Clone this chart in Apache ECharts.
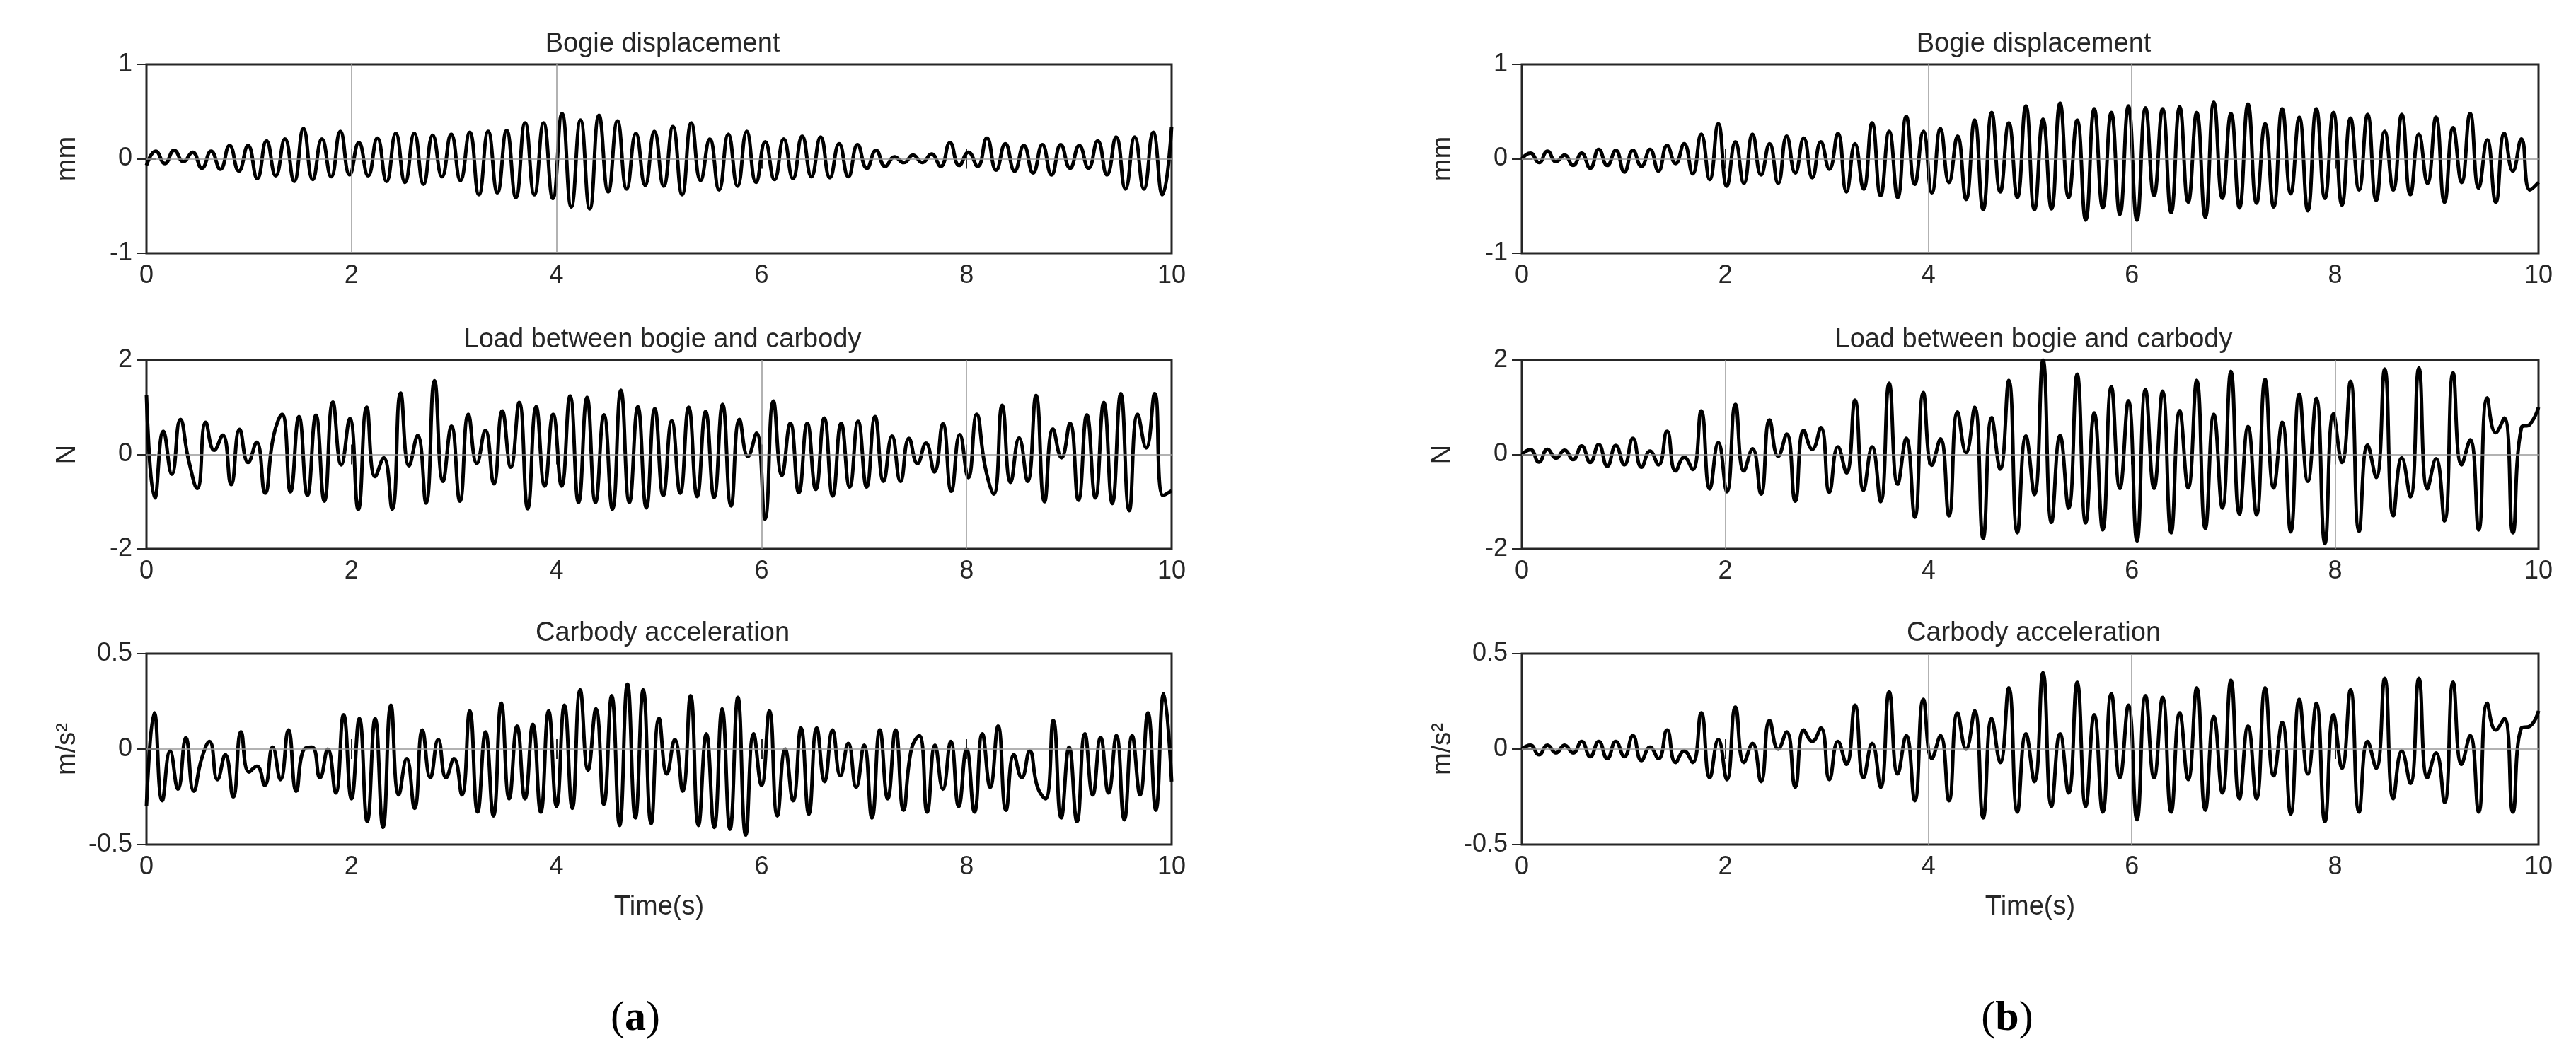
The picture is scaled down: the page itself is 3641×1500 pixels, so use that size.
<!DOCTYPE html>
<html>
<head>
<meta charset="utf-8">
<script src="https://cdn.jsdelivr.net/npm/echarts@6/dist/echarts.min.js"></script>
<style>html,body{margin:0;background:#fff}#chart{width:3641px;height:1500px}</style>
</head>
<body>
<div id="chart"></div>
<script>
// extrema, evenly spread from t=0 to t=10 s
const dispA = [-0.07,0.08,-0.05,0.09,-0.03,0.07,-0.1,0.08,-0.11,0.14,-0.13,0.14,-0.21,0.19,-0.18,0.21,-0.24,0.32,-0.22,0.21,-0.19,0.29,-0.17,0.17,-0.18,0.22,-0.24,0.27,-0.25,0.27,-0.27,0.25,-0.19,0.26,-0.23,0.28,-0.38,0.29,-0.36,0.30,-0.41,0.38,-0.38,0.38,-0.42,0.48,-0.51,0.41,-0.53,0.46,-0.35,0.40,-0.32,0.27,-0.28,0.29,-0.29,0.34,-0.38,0.38,-0.23,0.21,-0.33,0.26,-0.29,0.29,-0.25,0.18,-0.22,0.21,-0.21,0.24,-0.19,0.23,-0.2,0.16,-0.19,0.15,-0.1,0.09,-0.08,0.02,-0.04,0.04,-0.04,0.05,-0.08,0.17,-0.07,0.07,-0.08,0.22,-0.12,0.16,-0.13,0.14,-0.15,0.15,-0.17,0.15,-0.1,0.14,-0.1,0.19,-0.17,0.23,-0.32,0.23,-0.32,0.28,-0.38,0.34];
const dispB = [0,0.06,-0.04,0.08,-0.03,0.04,-0.07,0.06,-0.1,0.1,-0.07,0.09,-0.14,0.09,-0.08,0.1,-0.13,0.14,-0.05,0.16,-0.16,0.26,-0.22,0.37,-0.29,0.18,-0.26,0.26,-0.17,0.16,-0.26,0.24,-0.15,0.22,-0.2,0.18,-0.11,0.27,-0.35,0.16,-0.32,0.38,-0.39,0.29,-0.41,0.45,-0.27,0.29,-0.36,0.32,-0.25,0.24,-0.43,0.41,-0.54,0.49,-0.35,0.38,-0.41,0.56,-0.54,0.42,-0.53,0.59,-0.41,0.41,-0.65,0.53,-0.52,0.49,-0.59,0.56,-0.65,0.54,-0.39,0.53,-0.57,0.55,-0.46,0.49,-0.62,0.60,-0.42,0.48,-0.52,0.58,-0.47,0.37,-0.51,0.53,-0.37,0.44,-0.55,0.53,-0.42,0.49,-0.49,0.43,-0.33,0.47,-0.44,0.29,-0.33,0.47,-0.38,0.26,-0.26,0.44,-0.46,0.33,-0.25,0.48,-0.31,0.2,-0.46,0.27,-0.13,0.21,-0.33,-0.25];
const loadA = [1.26,-0.92,0.49,-0.42,0.74,-0.14,-0.72,0.68,0.09,0.41,-0.64,0.53,-0.17,0.26,-0.82,0.39,0.85,-0.79,0.8,-0.87,0.83,-0.99,1.11,-0.22,0.76,-1.17,1.0,-0.47,-0.07,-1.16,1.3,-0.24,0.4,-1.03,1.56,-0.57,0.6,-0.99,0.85,-0.19,0.51,-0.62,0.92,-0.27,1.1,-1.15,1.01,-0.67,0.85,-0.67,1.24,-1.02,1.21,-1.02,0.84,-1.16,1.36,-1.02,1.01,-1.13,0.97,-0.87,0.71,-0.82,1.0,-0.89,0.91,-0.91,1.06,-1.09,0.74,-0.04,0.45,-1.37,1.13,-0.44,0.66,-0.81,0.66,-0.74,0.77,-0.88,0.66,-0.69,0.7,-0.69,0.8,-0.57,0.39,-0.57,0.34,-0.19,0.24,-0.37,0.65,-0.78,0.42,-0.49,0.85,-0.27,-0.84,1.04,-0.59,0.35,-0.57,1.25,-1.0,0.54,-0.07,0.66,-0.97,0.84,-0.92,1.1,-1.04,1.29,-1.19,0.85,0.14,1.29,-0.87,-0.77];
const loadB = [0,0.1,-0.16,0.11,-0.08,0.09,-0.11,0.18,-0.17,0.21,-0.25,0.19,-0.22,0.34,-0.27,0.07,-0.22,0.49,-0.35,-0.06,-0.32,0.92,-0.73,0.25,-0.79,1.06,-0.35,0.12,-0.84,0.73,-0.04,0.43,-0.99,0.51,0.11,0.57,-0.8,0.16,-0.39,1.15,-0.76,0.16,-1.0,1.51,-0.63,0.34,-1.33,1.31,-0.23,0.33,-1.3,0.9,0.04,1.0,-1.78,0.78,-0.31,1.57,-1.66,0.39,-0.85,2.0,-1.44,0.4,-1.14,1.7,-1.45,0.88,-1.6,1.44,-0.72,1.14,-1.83,1.37,-0.72,1.34,-1.66,0.93,-0.71,1.57,-1.57,0.85,-1.14,1.76,-1.27,0.59,-1.28,1.59,-0.71,0.68,-1.64,1.28,-0.57,1.19,-1.89,0.86,-0.17,1.55,-1.63,0.2,-0.49,1.81,-1.3,-0.07,-0.9,1.83,-0.73,-0.09,-1.41,1.73,-0.22,0.31,-1.6,1.2,0.46,0.77,-1.66,0.57,0.64,1.0];
const accA = [-0.3,0.19,-0.27,-0.01,-0.21,0.06,-0.22,-0.05,0.04,-0.16,-0.03,-0.25,0.09,-0.12,-0.09,-0.19,0.01,-0.16,0.1,-0.22,0,0.01,-0.15,0,-0.23,0.18,-0.26,0.16,-0.38,0.16,-0.41,0.23,-0.24,-0.05,-0.31,0.1,-0.15,0.05,-0.15,-0.05,-0.24,0.2,-0.33,0.09,-0.35,0.24,-0.26,0.12,-0.26,0.13,-0.33,0.2,-0.3,0.23,-0.31,0.31,-0.11,0.21,-0.29,0.28,-0.4,0.34,-0.36,0.31,-0.39,0.16,-0.13,0.05,-0.22,0.28,-0.4,0.08,-0.41,0.21,-0.42,0.27,-0.45,0.08,-0.19,0.2,-0.35,0,-0.27,0.11,-0.34,0.11,-0.17,0.1,-0.14,0.03,-0.2,0.02,-0.36,0.1,-0.26,0.1,-0.32,0,0.07,-0.33,0.02,-0.21,0.04,-0.3,0,-0.33,0.08,-0.2,0.12,-0.32,-0.03,-0.15,-0.01,-0.2,-0.26,0.15,-0.36,0.01,-0.38,0.08,-0.24,0.06,-0.23,0.07,-0.37,0.07,-0.24,0.19,-0.32,0.29,-0.17];
const accB = [0,0.02,-0.03,0.02,-0.02,0.02,-0.02,0.04,-0.04,0.04,-0.05,0.04,-0.04,0.07,-0.06,0.01,-0.05,0.1,-0.07,-0.01,-0.07,0.19,-0.15,0.05,-0.16,0.22,-0.07,0.03,-0.17,0.15,0,0.09,-0.2,0.1,0.04,0.11,-0.16,0.04,-0.08,0.23,-0.15,0.03,-0.2,0.3,-0.13,0.07,-0.27,0.26,-0.05,0.07,-0.27,0.19,0,0.2,-0.36,0.16,-0.07,0.32,-0.33,0.08,-0.17,0.4,-0.3,0.08,-0.23,0.35,-0.3,0.18,-0.33,0.29,-0.15,0.23,-0.37,0.28,-0.15,0.27,-0.33,0.19,-0.16,0.32,-0.32,0.17,-0.23,0.36,-0.26,0.12,-0.26,0.32,-0.14,0.14,-0.34,0.26,-0.13,0.24,-0.38,0.18,-0.1,0.31,-0.33,0.04,-0.1,0.37,-0.26,-0.01,-0.18,0.37,-0.15,-0.02,-0.28,0.35,-0.08,0.07,-0.33,0.24,0.1,0.16,-0.33,0.11,0.12,0.2];

const xTicks = [0, 2, 4, 6, 8, 10];
const panelTitles = ['Bogie displacement', 'Load between bogie and carbody', 'Carbody acceleration'];
const yNames = ['mm', 'N', 'm/s\u00b2'];
const yRanges = [[-1, 1, 1], [-2, 2, 2], [-0.5, 0.5, 0.5]];
// thin vertical grid traces visible in the original
const vLinesA = [[2, 4], [6, 8], []];
const vLinesB = [[4, 6], [2, 8], [4, 6]];

const font = 'Liberation Sans, Arial, sans-serif';
const lefts = [207, 2151];
const widths = [1449, 1437];
const tops = [91, 509, 924];
const heights = [267, 267, 270];

function toPoints(vals) {
    const step = 10 / (vals.length - 1);
    return vals.map((v, i) => [i * step, v]);
}

const grids = [], xAxes = [], yAxes = [], series = [], titles = [];
const columns = [[dispA, loadA, accA], [dispB, loadB, accB]];
const vLines = [vLinesA, vLinesB];

columns.forEach((col, c) => {
    col.forEach((vals, r) => {
        const g = grids.length;
        grids.push({ left: lefts[c], top: tops[r], width: widths[c], height: heights[r],
            show: true, borderColor: '#262626', borderWidth: 3 });
        titles.push({ text: panelTitles[r], left: lefts[c] + widths[c] / 2, top: tops[r] - 52,
            textAlign: 'center', textStyle: { fontFamily: font, fontWeight: 'normal', fontSize: 38, color: '#262626' } });
        const tickStyle = { show: true, inside: true, length: 14, lineStyle: { color: '#262626', width: 2 } };
        xAxes.push({ gridIndex: g, type: 'value', min: 0, max: 10, interval: 2,
            axisLine: { show: false }, axisTick: tickStyle, splitLine: { show: false },
            axisLabel: { fontFamily: font, fontSize: 36, color: '#262626', margin: 14 },
            name: r === 2 ? 'Time(s)' : '', nameLocation: 'middle', nameGap: 70,
            nameTextStyle: { fontFamily: font, fontSize: 38, color: '#262626' } });
        xAxes.push({ gridIndex: g, type: 'value', position: 'top', min: 0, max: 10, interval: 2,
            axisLine: { show: false }, axisTick: tickStyle, axisLabel: { show: false }, splitLine: { show: false } });
        const yr = yRanges[r];
        yAxes.push({ gridIndex: g, type: 'value', min: yr[0], max: yr[1], interval: yr[2],
            axisLine: { show: false }, axisTick: tickStyle, splitLine: { show: false },
            axisLabel: { fontFamily: font, fontSize: 36, color: '#262626', margin: 20 },
            name: yNames[r], nameLocation: 'middle', nameGap: 92,
            nameTextStyle: { fontFamily: font, fontSize: 38, color: '#262626' } });
        yAxes.push({ gridIndex: g, type: 'value', position: 'right', min: yr[0], max: yr[1], interval: yr[2],
            axisLine: { show: false }, axisTick: tickStyle, axisLabel: { show: false }, splitLine: { show: false } });
        const marks = [{ yAxis: 0 }].concat(vLines[c][r].map(x => ({ xAxis: x })));
        series.push({ type: 'line', xAxisIndex: 2 * g, yAxisIndex: 2 * g, data: toPoints(vals),
            smooth: 0.5, showSymbol: false, silent: true,
            lineStyle: { color: '#000', width: 5 },
            markLine: { silent: true, symbol: 'none', label: { show: false },
                lineStyle: { color: '#999', width: 1.5, type: 'solid' }, data: marks } });
    });
});

titles.push({ text: '({a|a})', left: 893, top: 1405, textAlign: 'center',
    textStyle: { fontFamily: 'Liberation Serif, serif', fontSize: 60, fontWeight: 'normal', color: '#000',
        rich: { a: { fontFamily: 'Liberation Serif, serif', fontSize: 60, fontWeight: 'bold' } } } });
titles.push({ text: '({a|b})', left: 2832, top: 1405, textAlign: 'center',
    textStyle: { fontFamily: 'Liberation Serif, serif', fontSize: 60, fontWeight: 'normal', color: '#000',
        rich: { a: { fontFamily: 'Liberation Serif, serif', fontSize: 60, fontWeight: 'bold' } } } });

const chart = echarts.init(document.getElementById('chart'));
chart.setOption({
    animation: false,
    backgroundColor: '#fff',
    title: titles,
    grid: grids,
    xAxis: xAxes,
    yAxis: yAxes,
    series: series
});
window.addEventListener('resize', () => chart.resize());
</script>
</body>
</html>
